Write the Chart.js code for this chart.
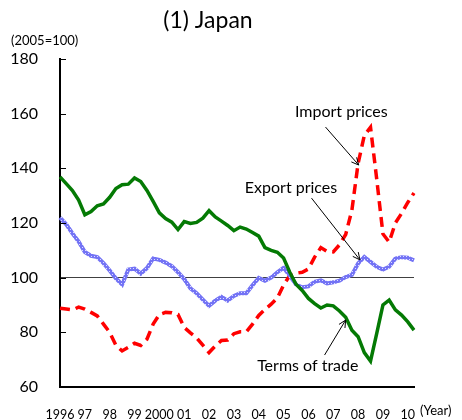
<!DOCTYPE html>
<html>
<head>
<meta charset="utf-8">
<script src="https://cdn.jsdelivr.net/npm/chart.js@4"></script>
<style>
html, body { margin: 0; padding: 0; background: #fff; }
</style>
</head>
<body>
<canvas id="chart" width="462" height="420"></canvas>
<script>
// quarterly, 1996Q1 .. 2010Q2 (2005=100)
const years = ['1996', '97', '98', '99', '2000', '01', '02', '03', '04', '05', '06', '07', '08', '09', '10'];

const termsOfTrade = [
  136.9, 134.4, 131.9, 128.4, 123.0, 124.2, 126.3, 127.0, 129.4, 132.6,
  134.0, 134.2, 136.5, 135.2, 131.9, 127.9, 123.7, 121.6, 120.3, 117.6,
  120.5, 119.8, 120.2, 121.8, 124.5, 122.2, 120.7, 119.1, 117.2, 118.5,
  117.8, 116.5, 115.2, 111.0, 110.0, 109.3, 107.2, 102.0, 97.6, 95.3,
  92.4, 90.5, 88.9, 90.0, 89.7, 87.8, 85.5, 80.8, 78.4, 72.6,
  69.5, 79.6, 90.0, 91.8, 88.2, 86.3, 83.8, 80.8
];

const exportPrices = [
  122.0, 119.5, 116.2, 113.2, 109.4, 108.0, 107.5, 105.3, 102.6, 99.7,
  97.5, 103.0, 103.3, 101.5, 103.5, 107.0, 106.5, 105.5, 104.2, 102.0,
  99.5, 96.1, 94.3, 92.0, 89.7, 91.6, 93.0, 91.6, 93.3, 94.3,
  94.3, 97.2, 99.9, 98.9, 100.0, 102.0, 103.6, 100.7, 97.5, 96.5,
  96.8, 98.5, 99.0, 97.9, 98.3, 98.9, 100.2, 101.0, 105.2, 107.6,
  105.8, 104.0, 103.0, 104.0, 107.0, 107.5, 107.3, 106.3
];

const importPrices = [
  88.8, 88.5, 88.2, 89.2, 88.5, 87.3, 86.0, 83.0, 80.0, 75.3,
  73.2, 74.5, 76.0, 75.2, 77.5, 83.0, 86.5, 87.3, 87.2, 86.5,
  81.8, 79.8, 78.0, 75.3, 72.6, 75.0, 77.0, 77.2, 79.5, 80.2,
  80.2, 83.0, 86.2, 88.4, 90.3, 92.6, 97.3, 100.8, 101.6, 102.0,
  103.2, 107.5, 111.0, 109.6, 109.4, 112.0, 115.8, 124.7, 141.8, 152.0,
  155.0, 136.0, 116.0, 113.0, 120.0, 123.5, 127.5, 131.0
];

// annotation labels and arrows, in data coordinates (quarter index, value)
const noteText = ['Import prices', 'Export prices', 'Terms of trade'];
const noteAt = [[45.3, 160.6], [37.2, 132.8], [39.9, 67.7]];
const arrowFrom = [[42.75, 155.1], [40.5, 129.1], [42.6, 71.7]];
const arrowTo = [[48.1, 141.2], [48.3, 106.5], [46.0, 84.5]];

const labels = [];
years.forEach(y => { for (let q = 1; q <= 4; q++) labels.push(y + ' Q' + q); });
labels.length = termsOfTrade.length;

Chart.defaults.font.family = 'Lato';
Chart.defaults.color = '#000';

function speckledBlue() {
  const c = document.createElement('canvas');
  c.width = 3; c.height = 3;
  const g = c.getContext('2d');
  g.fillStyle = '#7373f5';
  g.fillRect(0, 0, 3, 3);
  g.fillStyle = '#dcdcff';
  g.fillRect(1, 1, 1, 1);
  return g.createPattern(c, 'repeat');
}

function arrow(ctx, x1, y1, x2, y2) {
  const ang = Math.atan2(y2 - y1, x2 - x1);
  const len = 8;
  ctx.beginPath();
  ctx.moveTo(x1, y1);
  ctx.lineTo(x2, y2);
  ctx.moveTo(x2 - len * Math.cos(ang - 0.45), y2 - len * Math.sin(ang - 0.45));
  ctx.lineTo(x2, y2);
  ctx.lineTo(x2 - len * Math.cos(ang + 0.45), y2 - len * Math.sin(ang + 0.45));
  ctx.stroke();
}

const extras = {
  id: 'extras',
  afterDraw(chart) {
    const { ctx, chartArea: a, scales: { x, y } } = chart;
    ctx.save();
    // inward tick marks on the value axis
    ctx.strokeStyle = '#000';
    ctx.lineWidth = 1;
    y.ticks.forEach(t => {
      const py = Math.round(y.getPixelForValue(t.value)) + 0.5;
      ctx.beginPath();
      ctx.moveTo(a.left, py);
      ctx.lineTo(a.left + 6, py);
      ctx.stroke();
    });

    ctx.fillStyle = '#000';
    ctx.textBaseline = 'middle';
    ctx.textAlign = 'center';
    ctx.font = '23px Lato';
    ctx.fillText('(1) Japan', 208, 21);
    ctx.textAlign = 'left';
    ctx.font = '13px Lato';
    ctx.fillText('(2005=100)', 11, 41);
    ctx.fillText('(Year)', 420, 411);

    ctx.font = '16px Lato';
    ctx.textAlign = 'center';
    noteText.forEach((t, i) => {
      ctx.fillText(t, x.getPixelForValue(noteAt[i][0]), y.getPixelForValue(noteAt[i][1]));
      arrow(ctx,
        x.getPixelForValue(arrowFrom[i][0]), y.getPixelForValue(arrowFrom[i][1]),
        x.getPixelForValue(arrowTo[i][0]), y.getPixelForValue(arrowTo[i][1]));
    });
    ctx.restore();
  }
};

const ctx = document.getElementById('chart').getContext('2d');
const myChart = new Chart(ctx, {
  type: 'line',
  data: {
    labels: labels,
    datasets: [{
      label: 'Terms of trade',
      data: termsOfTrade,
      borderColor: '#047a04',
      borderWidth: 3.5
    }, {
      label: 'Export prices',
      data: exportPrices,
      borderColor: speckledBlue(),
      borderWidth: 4
    }, {
      label: 'Import prices',
      data: importPrices,
      borderColor: '#ff0000',
      borderWidth: 3.5,
      borderDash: [10, 6]
    }]
  },
  options: {
    responsive: false,
    animation: false,
    layout: { padding: { top: 59, right: 48, left: 0, bottom: 0 } },
    elements: {
      point: { radius: 0 },
      line: { tension: 0, borderCapStyle: 'butt' }
    },
    plugins: {
      legend: { display: false },
      tooltip: { enabled: false }
    },
    scales: {
      x: {
        type: 'category',
        offset: false,
        grid: { display: false },
        border: { display: true, color: '#000', width: 2 },
        afterFit(scale) { scale.height = 33; },
        ticks: {
          autoSkip: false,
          maxRotation: 0,
          padding: 12,
          font: { size: 12.5 },
          callback: (v, i) => (i % 4 === 0 ? years[i / 4] : '')
        }
      },
      y: {
        min: 60,
        max: 180,
        afterFit(scale) { scale.width = 60; },
        border: { display: true, color: '#000', width: 2 },
        grid: {
          drawTicks: false,
          color: c => (c.tick && c.tick.value === 100 ? '#404040' : 'rgba(0,0,0,0)'),
          lineWidth: 1
        },
        ticks: {
          stepSize: 20,
          padding: 22,
          font: { size: 16 }
        }
      }
    }
  },
  plugins: [extras]
});
</script>
</body>
</html>
